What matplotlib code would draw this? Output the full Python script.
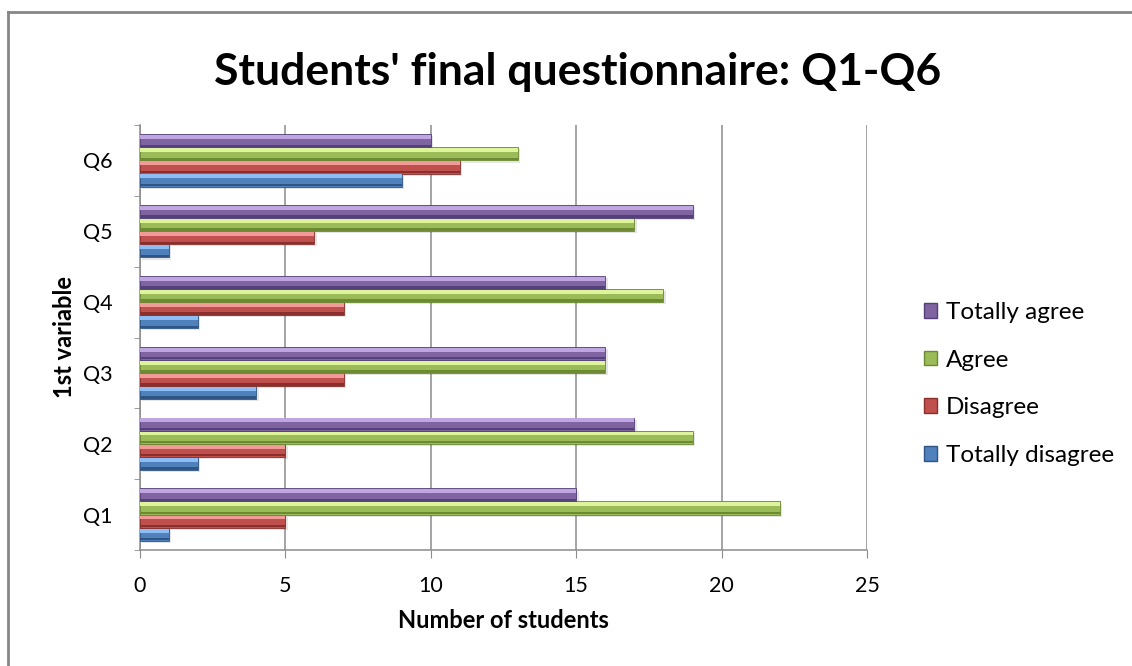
import numpy as np
import matplotlib.pyplot as plt
from matplotlib.lines import Line2D
from matplotlib.patches import Patch

#chart values
questions = ["Q1", "Q2", "Q3", "Q4", "Q5", "Q6"]
totally_disagree = [1, 2, 4, 2, 1, 9]
disagree = [5, 5, 7, 7, 6, 11]
agree = [22, 19, 16, 18, 17, 13]
totally_agree = [15, 17, 16, 16, 19, 10]

series_names = ["Totally disagree", "Disagree", "Agree", "Totally agree"]
series_vals = [totally_disagree, disagree, agree, totally_agree]

#base, light top edge, dark bottom edge (excel 2007 bevel look)
base_cols = ["#4F81BD", "#C0504D", "#9BBB59", "#8064A2"]
light_cols = ["#8DBDF2", "#F29A97", "#DDF49A", "#BFA6E0"]
dark_cols = ["#2F5585", "#8A2F2C", "#6B8A32", "#54407A"]

plt.rcParams['font.family'] = ['Lato', 'DejaVu Sans']

fig = plt.figure(figsize=(11.32, 6.66), dpi=100)
ax = fig.add_axes([140/1132, 1-550/666, (867-140)/1132, (550-125)/666])

y = np.arange(len(questions))
h = 0.185
for s in range(4):
	pos = y + (s - 1.5) * h
	vals = np.array(series_vals[s])
	#soft shadow
	ax.barh(pos - 0.03, vals, height=h, left=0.08, color="#000000", alpha=0.10, zorder=2)
	ax.barh(pos, vals, height=h, color=base_cols[s], edgecolor=dark_cols[s], linewidth=0.6, zorder=3)
	ax.barh(pos + h*0.28, vals, height=h*0.3, color=light_cols[s], linewidth=0, zorder=4)
	ax.barh(pos - h*0.38, vals, height=h*0.18, color=dark_cols[s], linewidth=0, zorder=4)

ax.set_xlim(0, 25)
ax.set_ylim(-0.5, 5.5)
ax.set_xticks([0, 5, 10, 15, 20, 25])
ax.set_yticks(y)
ax.set_yticklabels(questions)
ax.set_yticks(np.arange(-0.5, 6, 1), minor=True)
ax.grid(axis='x', color="#8C8C8C", linewidth=1.1, zorder=1)
ax.set_axisbelow(True)

for sp in ["top", "right"]:
	ax.spines[sp].set_visible(False)
for sp in ["left", "bottom"]:
	ax.spines[sp].set_color("#8C8C8C")
	ax.spines[sp].set_linewidth(1.1)

ax.tick_params(axis='x', direction='out', length=6, color="#8C8C8C", labelsize=15.5, pad=13)
ax.tick_params(axis='y', which='major', length=0, labelsize=15.5, pad=20)
ax.tick_params(axis='y', which='minor', direction='out', length=4, color="#8C8C8C")

ax.set_xlabel("Number of students", fontsize=17, fontweight='bold', labelpad=9)
ax.set_ylabel("1st variable", fontsize=17, fontweight='bold', labelpad=5)

fig.text(578/1132, 1-72/666, "Students' final questionnaire: Q1-Q6", ha='center', va='center',
	fontsize=32, fontweight='bold')

#legend, top entry is Totally agree
handles = [Patch(facecolor=base_cols[s], edgecolor=dark_cols[s]) for s in range(3, -1, -1)]
labels = [series_names[s] for s in range(3, -1, -1)]
fig.legend(handles, labels, loc='center left', bbox_to_anchor=(902/1132, 1-384/666), frameon=False,
	fontsize=17.5, handlelength=0.55, handleheight=0.55, handletextpad=0.35, labelspacing=1.1)

#outer chart border
fig.add_artist(Line2D([8/1132, 1], [1-12/666, 1-12/666], color="#868686", linewidth=2))
fig.add_artist(Line2D([8/1132, 8/1132], [0, 1-12/666], color="#868686", linewidth=2))

fig.savefig("out.png", dpi=100)
